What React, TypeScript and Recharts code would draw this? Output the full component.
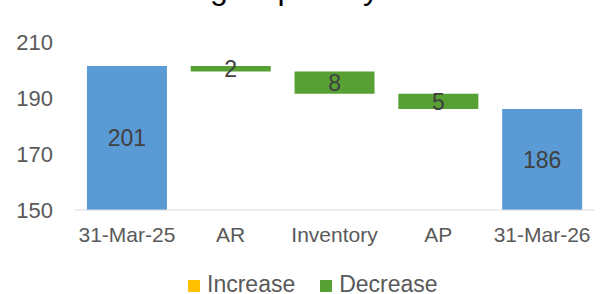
import React from 'react';
import { BarChart, Bar, XAxis, YAxis, Legend, LabelList } from 'recharts';

const categories = ['31-Mar-25', 'AR', 'Inventory', 'AP', '31-Mar-26'];
const totals = [201.4, null, null, null, 186.1];
const increases = [null, null, null, null, null];
const decreases = [null, 1.9, 8.0, 5.4, null];
const yTicks = [150, 170, 190, 210];
const legendOrder = ['Increase', 'Decrease'];

const FONT = "'Liberation Sans', Arial, sans-serif";
const COLORS = {
  total: '#5b9bd5',
  increase: '#ffc000',
  decrease: '#57a033',
};

// waterfall rows: invisible base + one visible segment per category
let running = 0;
const data = categories.map((name, i) => {
  const total = totals[i];
  const inc = increases[i];
  const dec = decreases[i];
  if (total != null) {
    running = total;
    return { name, base: yTicks[0], total: total - yTicks[0], totalLabel: Math.round(total) };
  }
  if (inc != null) {
    const row = { name, base: running, increase: inc };
    running += inc;
    return row;
  }
  running -= dec ?? 0;
  return { name, base: running, decrease: dec };
});

const round = (v: any) => (v == null ? '' : Math.round(Number(v)));

export default function App() {
  return (
    <div style={{ position: 'absolute', left: 0, top: 0, width: 602, height: 294, overflow: 'hidden', background: '#fff' }}>
      <div
        style={{
          position: 'absolute',
          left: 111,
          top: -28,
          fontFamily: FONT,
          fontSize: 32,
          lineHeight: '32px',
          color: '#000',
          whiteSpace: 'nowrap',
        }}
      >
        Working Capital by Driver
      </div>
      <BarChart
        width={602}
        height={294}
        data={data}
        margin={{ top: 42, right: 8, bottom: 0, left: 0 }}
        barCategoryGap="11.5%"
      >
        <XAxis
          dataKey="name"
          tickLine={false}
          tickSize={0}
          tickMargin={17}
          height={64}
          axisLine={{ stroke: '#d9d9d9' }}
          tick={{ fill: '#595959', fontSize: 21, fontFamily: FONT }}
          interval={0}
        />
        <YAxis
          domain={[yTicks[0], yTicks[yTicks.length - 1]]}
          ticks={yTicks}
          allowDataOverflow
          width={75}
          axisLine={false}
          tickLine={false}
          tickSize={0}
          tickMargin={22}
          tick={{ fill: '#595959', fontSize: 22, fontFamily: FONT }}
        />
        <Legend
          verticalAlign="bottom"
          height={20}
          iconType="square"
          iconSize={12}
          itemSorter={(item: any) => legendOrder.indexOf(item.value)}
          wrapperStyle={{ fontFamily: FONT, fontSize: 23, lineHeight: '20px', left: 188, top: 274, width: 'auto', height: 20 }}
          formatter={(value: string) => (
            <span style={{ color: '#595959', marginLeft: 3, marginRight: 15 }}>{value}</span>
          )}
        />
        <Bar dataKey="base" stackId="w" fill="transparent" legendType="none" isAnimationActive={false} />
        <Bar dataKey="total" stackId="w" fill={COLORS.total} legendType="none" isAnimationActive={false}>
          <LabelList dataKey="totalLabel" position="center" fill="#404040" fontSize={23} fontFamily={FONT} />
        </Bar>
        <Bar dataKey="increase" name="Increase" stackId="w" fill={COLORS.increase} isAnimationActive={false}>
          <LabelList dataKey="increase" position="center" formatter={round} fill="#404040" fontSize={23} fontFamily={FONT} />
        </Bar>
        <Bar dataKey="decrease" name="Decrease" stackId="w" fill={COLORS.decrease} isAnimationActive={false}>
          <LabelList dataKey="decrease" position="center" formatter={round} fill="#404040" fontSize={23} fontFamily={FONT} />
        </Bar>
      </BarChart>
    </div>
  );
}
